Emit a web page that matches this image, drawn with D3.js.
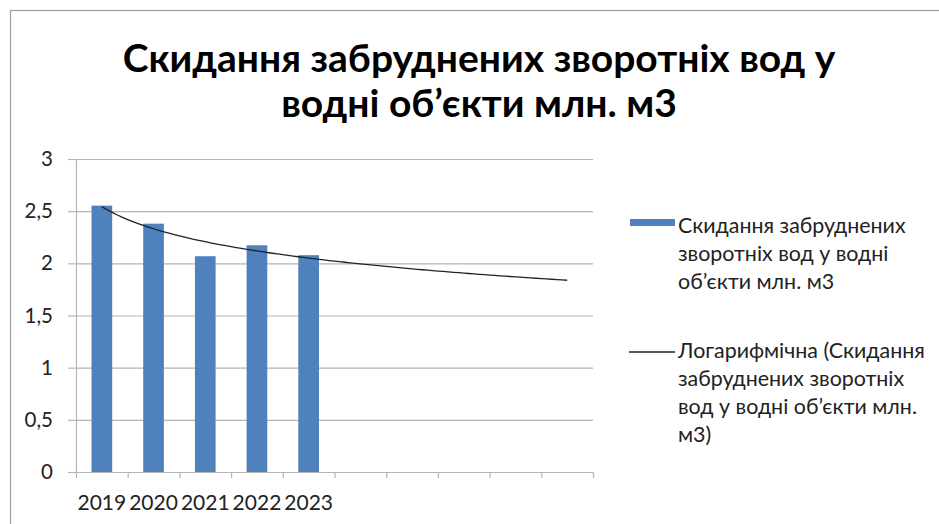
<!DOCTYPE html>
<html>
<head>
<meta charset="utf-8">
<script src="https://cdn.jsdelivr.net/npm/d3@7"></script>
<style>
  html, body { margin: 0; padding: 0; background: #fff; }
  svg { display: block; font-family: Lato, 'Open Sans', sans-serif; }
</style>
</head>
<body>
<script>
// DATA
const years = ['2019', '2020', '2021', '2022', '2023'];
const values = [2.553, 2.38, 2.068, 2.173, 2.078];
const forecastPeriods = 5;
const yTicks = [0, 0.5, 1, 1.5, 2, 2.5, 3];
const titleLines = ['Скидання забруднених зворотніх вод у', 'водні об’єкти млн. м3'];
const seriesName = ['Скидання забруднених', 'зворотніх вод у водні', 'об’єкти млн. м3'];
const trendName = ['Логарифмічна (Скидання', 'забруднених зворотніх', 'вод у водні об’єкти млн.', 'м3)'];

// CONFIGURATION
const width = 939;
const height = 524;
const plot = { left: 76, right: 593, top: 159, bottom: 472 };
const barColor = '#4f81bd';
const gridColor = '#b5b5b5';
const textColor = '#222';

// all category slots: data years + empty forecast slots
const slots = years.map(function(y, i) { return i; });
for (let i = 0; i < forecastPeriods; i++) slots.push(years.length + i);

const xBand = d3.scaleBand()
  .domain(slots)
  .range([plot.left, plot.right])
  .paddingInner(0.6)
  .paddingOuter(0.3);
const xLin = d3.scaleLinear()
  .domain([0.5, slots.length + 0.5])
  .range([plot.left, plot.right]);
const yScale = d3.scaleLinear()
  .domain([0, 3])
  .range([plot.bottom, plot.top]);

const locale = d3.formatLocale({ decimal: ',', thousands: ' ', grouping: [3], currency: ['', ''] });
const fmt = locale.format('.1~f');

// logarithmic trendline (least squares on ln x), like Excel
const lx = values.map(function(v, i) { return Math.log(i + 1); });
const mx = d3.mean(lx);
const my = d3.mean(values);
const slope = d3.sum(lx, function(l, i) { return (l - mx) * (values[i] - my); }) /
  d3.sum(lx, function(l) { return (l - mx) * (l - mx); });
const intercept = my - slope * mx;
const trendPts = d3.range(1, slots.length + 0.001, 0.1).map(function(t) {
  return [t, intercept + slope * Math.log(t)];
});

// SVG
const svg = d3.select('body')
  .append('svg')
  .attr('width', width)
  .attr('height', height);

svg.append('rect')
  .attr('width', width)
  .attr('height', height)
  .attr('fill', '#fff');

// chart frame (runs off the right and bottom edges)
svg.append('rect')
  .attr('x', 10.5)
  .attr('y', 10.5)
  .attr('width', 1200)
  .attr('height', 1200)
  .attr('fill', 'none')
  .attr('stroke', '#a0a0a0')
  .attr('stroke-width', 1.2);

// TITLE
svg.append('g')
  .selectAll('text')
  .data(titleLines)
  .enter()
  .append('text')
  .attr('x', 479)
  .attr('y', function(d, i) { return 72 + i * 45; })
  .attr('text-anchor', 'middle')
  .attr('font-size', 39)
  .attr('font-weight', 'bold')
  .attr('fill', '#000')
  .text(function(d) { return d; });

// GRIDLINES
const grid = svg.append('g')
  .attr('transform', `translate(${plot.left}, 0)`)
  .call(d3.axisLeft(yScale).tickValues(yTicks).tickSize(-(plot.right - plot.left)).tickFormat(''));
grid.select('.domain').remove();
grid.selectAll('line').attr('stroke', gridColor).attr('stroke-width', 1.2);

// Y AXIS
const yAxis = svg.append('g')
  .attr('transform', `translate(${plot.left}, 0)`)
  .call(d3.axisLeft(yScale).tickValues(yTicks).tickSizeInner(8).tickSizeOuter(0).tickPadding(15).tickFormat(fmt));
yAxis.select('.domain').attr('stroke', gridColor).attr('stroke-width', 1.2);
yAxis.selectAll('line').attr('stroke', gridColor).attr('stroke-width', 1.2);
yAxis.selectAll('text')
  .attr('font-size', 20.5)
  .attr('font-family', 'Lato, sans-serif')
  .attr('fill', textColor);

// BARS
svg.append('g')
  .selectAll('rect')
  .data(values)
  .enter()
  .append('rect')
  .attr('x', function(d, i) { return xBand(i); })
  .attr('y', function(d) { return yScale(d); })
  .attr('width', xBand.bandwidth())
  .attr('height', function(d) { return yScale(0) - yScale(d); })
  .attr('fill', barColor);

// X AXIS (tick marks between categories)
const xAxis = svg.append('g')
  .attr('transform', `translate(0, ${plot.bottom})`)
  .call(d3.axisBottom(xLin).tickValues(d3.range(0.5, slots.length + 1, 1)).tickSizeInner(6).tickSizeOuter(0).tickFormat(''));
xAxis.select('.domain').attr('stroke', gridColor).attr('stroke-width', 1.2);
xAxis.selectAll('line').attr('stroke', gridColor).attr('stroke-width', 1.2);

const xLabels = svg.append('g')
  .attr('transform', `translate(0, ${plot.bottom})`)
  .call(d3.axisBottom(xBand).tickSize(0).tickPadding(23).tickFormat(function(i) { return years[i] || ''; }));
xLabels.select('.domain').remove();
xLabels.selectAll('text')
  .attr('font-size', 21)
  .attr('font-family', 'Lato, sans-serif')
  .attr('fill', textColor);

// TRENDLINE
svg.append('path')
  .datum(trendPts)
  .attr('fill', 'none')
  .attr('stroke', '#222')
  .attr('stroke-width', 1.3)
  .attr('d', d3.line()
    .x(function(d) { return xLin(d[0]); })
    .y(function(d) { return yScale(d[1]); }));

// LEGEND
const legend = svg.append('g').attr('id', 'legend');

legend.append('rect')
  .attr('x', 630)
  .attr('y', 219)
  .attr('width', 45)
  .attr('height', 7)
  .attr('fill', barColor);

legend.append('line')
  .attr('x1', 629)
  .attr('x2', 675)
  .attr('y1', 352)
  .attr('y2', 352)
  .attr('stroke', '#222')
  .attr('stroke-width', 1.3);

legend.selectAll('text.s')
  .data(seriesName)
  .enter()
  .append('text')
  .attr('class', 's')
  .attr('x', 678)
  .attr('y', function(d, i) { return 233 + i * 28; })
  .attr('font-size', 21.4)
  .attr('fill', textColor)
  .text(function(d) { return d; });

legend.selectAll('text.t')
  .data(trendName)
  .enter()
  .append('text')
  .attr('class', 't')
  .attr('x', 678)
  .attr('y', function(d, i) { return 358 + i * 28; })
  .attr('font-size', 21.4)
  .attr('fill', textColor)
  .text(function(d) { return d; });
</script>
</body>
</html>
